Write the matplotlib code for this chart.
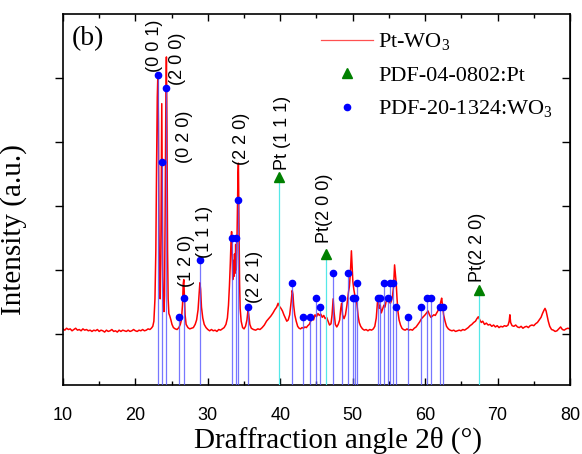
import matplotlib
matplotlib.use("Agg")
import matplotlib.pyplot as plt
from matplotlib.lines import Line2D
from matplotlib.ticker import MultipleLocator

plt.rcParams['mathtext.fontset'] = 'custom'
plt.rcParams['mathtext.rm'] = 'Liberation Serif'

# XRD pattern Pt-WO3
two_theta = [
    10.0, 10.25, 10.5, 10.75, 11.0, 11.25, 11.5, 11.75, 12.0, 12.25, 12.5, 12.75,
    13.0, 13.25, 13.5, 13.75, 14.0, 14.25, 14.5, 14.75, 15.0, 15.25, 15.5, 15.75,
    16.0, 16.25, 16.5, 16.75, 17.0, 17.25, 17.5, 17.75, 18.0, 18.25, 18.5, 18.75,
    19.0, 19.25, 19.5, 19.75, 20.0, 20.25, 20.5, 20.75, 21.0, 21.25, 21.5, 21.75,
    22.0, 22.2, 22.4, 22.55, 22.7, 22.82, 22.92, 23.02, 23.1, 23.18, 23.26, 23.34,
    23.42, 23.5, 23.58, 23.64, 23.7, 23.78, 23.86, 23.94, 24.02, 24.1, 24.2, 24.28,
    24.36, 24.44, 24.52, 24.62, 24.75, 24.9, 25.05, 25.25, 25.5, 25.75, 26.0, 26.2,
    26.35, 26.5, 26.6, 26.68, 26.76, 26.86, 27.0, 27.25, 27.5, 27.75, 28.0, 28.25,
    28.45, 28.65, 28.8, 28.9, 29.0, 29.12, 29.3, 29.5, 29.75, 30.0, 30.25, 30.5,
    30.75, 31.0, 31.25, 31.5, 31.75, 32.0, 32.25, 32.5, 32.7, 32.85, 32.98, 33.1,
    33.2, 33.28, 33.36, 33.44, 33.52, 33.6, 33.68, 33.76, 33.84, 33.92, 34.0, 34.08,
    34.16, 34.22, 34.3, 34.38, 34.46, 34.6, 34.8, 35.0, 35.2, 35.4, 35.55, 35.65,
    35.8, 36.0, 36.3, 36.6, 36.9, 37.2, 37.5, 37.8, 38.1, 38.4, 38.7, 39.0,
    39.25, 39.5, 39.7, 39.9, 40.1, 40.3, 40.5, 40.7, 40.9, 41.1, 41.3, 41.5,
    41.65, 41.75, 41.85, 42.0, 42.2, 42.4, 42.6, 42.8, 43.0, 43.2, 43.4, 43.6,
    43.8, 44.0, 44.2, 44.4, 44.6, 44.8, 45.0, 45.2, 45.4, 45.6, 45.8, 46.0,
    46.2, 46.4, 46.6, 46.8, 47.0, 47.15, 47.3, 47.42, 47.6, 47.8, 48.0, 48.2,
    48.35, 48.47, 48.6, 48.8, 49.0, 49.2, 49.4, 49.55, 49.7, 49.82, 49.92, 50.02,
    50.15, 50.3, 50.45, 50.6, 50.75, 50.9, 51.1, 51.35, 51.6, 51.85, 52.1, 52.35,
    52.6, 52.85, 53.05, 53.25, 53.42, 53.52, 53.65, 53.8, 53.95, 54.1, 54.3, 54.45,
    54.6, 54.75, 54.9, 55.05, 55.2, 55.35, 55.5, 55.65, 55.78, 55.88, 56.0, 56.12,
    56.25, 56.4, 56.6, 56.8, 57.0, 57.25, 57.5, 57.75, 58.0, 58.25, 58.5, 58.75,
    59.0, 59.25, 59.5, 59.75, 60.0, 60.2, 60.4, 60.6, 60.8, 61.0, 61.2, 61.4,
    61.6, 61.8, 62.0, 62.15, 62.28, 62.4, 62.55, 62.75, 62.95, 63.2, 63.45, 63.7,
    63.95, 64.2, 64.45, 64.7, 64.95, 65.2, 65.45, 65.7, 65.95, 66.2, 66.45, 66.7,
    66.95, 67.15, 67.35, 67.55, 67.75, 67.95, 68.2, 68.45, 68.7, 68.95, 69.2, 69.45,
    69.7, 69.95, 70.2, 70.45, 70.7, 70.95, 71.2, 71.45, 71.6, 71.7, 71.8, 72.0,
    72.25, 72.5, 72.75, 73.0, 73.25, 73.5, 73.75, 74.0, 74.25, 74.5, 74.75, 75.0,
    75.25, 75.5, 75.75, 76.0, 76.2, 76.4, 76.55, 76.7, 76.85, 77.0, 77.2, 77.45,
    77.7, 77.95, 78.2, 78.45, 78.7, 78.95, 79.2, 79.45, 79.7, 80.0,
]
intensity = [
    0.08, 0.06, 0.09, 0.07, 0.08, 0.05, 0.07, 0.09, 0.06, 0.07, 0.05, 0.08,
    0.06, 0.07, 0.05, 0.06, 0.04, 0.06, 0.05, 0.07, 0.04, 0.06, 0.05, 0.03,
    0.06, 0.04, 0.05, 0.07, 0.04, 0.05, 0.03, 0.06, 0.04, 0.06, 0.05, 0.04,
    0.06, 0.04, 0.05, 0.07, 0.05, 0.04, 0.06, 0.05, 0.07, 0.05, 0.06, 0.08,
    0.07, 0.09, 0.12, 0.2, 0.55, 1.3, 2.6, 3.7, 4.05, 3.3, 1.6, 0.7,
    0.55, 1.1, 2.6, 3.6, 2.4, 0.9, 0.45, 0.35, 0.6, 1.8, 3.6, 4.33,
    3.2, 1.3, 0.55, 0.32, 0.28, 0.22, 0.15, 0.1, 0.08, 0.07, 0.1, 0.15,
    0.22, 0.45, 0.78, 0.85, 0.6, 0.3, 0.15, 0.1, 0.08, 0.09, 0.1, 0.15,
    0.22, 0.38, 0.62, 0.8, 0.7, 0.42, 0.25, 0.15, 0.1, 0.07, 0.05, 0.07,
    0.05, 0.06, 0.04, 0.07, 0.06, 0.08, 0.1, 0.15, 0.25, 0.45, 0.75, 1.1,
    1.45, 1.6, 1.2, 0.85, 1.15, 0.9, 1.25, 0.95, 1.4, 1.0, 1.3, 1.9,
    2.5, 2.67, 1.7, 0.8, 0.4, 0.2, 0.1, 0.08, 0.12, 0.22, 0.38, 0.3,
    0.15, 0.09, 0.07, 0.06, 0.08, 0.07, 0.1, 0.14, 0.2, 0.24, 0.28, 0.33,
    0.38, 0.42, 0.48, 0.43, 0.4, 0.36, 0.3, 0.25, 0.2, 0.22, 0.3, 0.5,
    0.68, 0.62, 0.45, 0.3, 0.2, 0.12, 0.09, 0.08, 0.1, 0.09, 0.11, 0.1,
    0.13, 0.15, 0.2, 0.26, 0.22, 0.3, 0.27, 0.32, 0.29, 0.31, 0.26, 0.29,
    0.24, 0.26, 0.2, 0.14, 0.16, 0.3, 0.55, 0.35, 0.15, 0.11, 0.15, 0.22,
    0.4, 0.48, 0.3, 0.24, 0.3, 0.45, 0.64, 0.75, 1.0, 1.3, 1.05, 0.82,
    0.7, 0.6, 0.58, 0.45, 0.28, 0.18, 0.12, 0.08, 0.06, 0.07, 0.05, 0.07,
    0.06, 0.08, 0.12, 0.25, 0.5, 0.58, 0.4, 0.45, 0.33, 0.38, 0.45, 0.42,
    0.5, 0.55, 0.58, 0.5, 0.48, 0.52, 0.6, 0.75, 1.08, 0.95, 0.8, 0.55,
    0.35, 0.22, 0.14, 0.09, 0.07, 0.06, 0.08, 0.06, 0.07, 0.06, 0.09, 0.11,
    0.15, 0.19, 0.24, 0.27, 0.3, 0.33, 0.36, 0.3, 0.26, 0.28, 0.3, 0.29,
    0.33, 0.37, 0.42, 0.5, 0.56, 0.45, 0.3, 0.2, 0.12, 0.08, 0.06, 0.05,
    0.06, 0.04, 0.05, 0.06, 0.05, 0.07, 0.06, 0.08, 0.1, 0.13, 0.15, 0.18,
    0.2, 0.24, 0.27, 0.22, 0.18, 0.2, 0.15, 0.17, 0.14, 0.15, 0.12, 0.14,
    0.11, 0.13, 0.1, 0.12, 0.11, 0.13, 0.12, 0.14, 0.2, 0.3, 0.18, 0.13,
    0.12, 0.14, 0.11, 0.1, 0.12, 0.09, 0.11, 0.12, 0.1, 0.13, 0.14, 0.13,
    0.16, 0.18, 0.22, 0.26, 0.32, 0.37, 0.4, 0.36, 0.28, 0.2, 0.12, 0.07,
    0.06, 0.04, 0.05, 0.08, 0.11, 0.07, 0.06, 0.08, 0.09, 0.08,
]

# reference cards
wo3_pos = [23.12, 23.72, 24.22, 26.06, 26.75, 28.9, 33.3, 33.84, 34.16, 35.58,
           41.6, 43.15, 44.1, 44.93, 45.45, 47.31, 48.47, 49.39, 50.08, 50.3,
           50.57, 53.5, 53.77, 54.34, 54.82, 55.14, 55.53, 55.95, 57.67, 59.47,
           60.25, 60.85, 62.09, 62.51]
wo3_int = [4.04, 2.69, 3.84, 0.27, 0.57, 1.16, 1.5, 1.5, 2.1, 0.42,
           0.8, 0.27, 0.27, 0.57, 0.42, 0.96, 0.57, 0.96, 0.57, 0.57,
           0.8, 0.57, 0.57, 0.8, 0.57, 0.8, 0.8, 0.42, 0.27, 0.42,
           0.57, 0.57, 0.42, 0.42]
pt_pos = [39.78, 46.33, 67.44]
pt_int = [2.46, 1.25, 0.69]

hkl_labels = ["(0 0 1)", "(2 0 0)", "(0 2 0)", "(2 2 0)", "Pt (1 1 1)",
              "(1 2 0)", "(1 1 1)", "(2 2 1)", "Pt(2 0 0)", "Pt(2 2 0)"]
hkl_x = [22.7, 25.78, 26.84, 34.66, 40.37, 27.07, 29.6, 36.5, 46.17, 67.2]
hkl_y = [4.09, 3.89, 2.67, 2.64, 2.56, 0.74, 1.19, 0.48, 1.42, 0.82]

fig = plt.figure(figsize=(5.82, 4.54), dpi=100)
ax = fig.add_axes([0.1082, 0.152, 0.8712, 0.817])
ymin, ymax = -0.797, 5.0

# sticks
ax.vlines(wo3_pos, ymin, wo3_int, color='#5555ff', lw=0.9, alpha=0.8, zorder=3)
ax.vlines(pt_pos, ymin, pt_int, color='#55e8e8', lw=0.9, zorder=3)
line, = ax.plot(two_theta, intensity, color='red', lw=1.1, zorder=2)
dots, = ax.plot(wo3_pos, wo3_int, 'o', color='blue', ms=4.5, ls='none', zorder=4)
tris, = ax.plot(pt_pos, pt_int, '^', color='green', ms=7, ls='none', zorder=4)

for lab, x, y in zip(hkl_labels, hkl_x, hkl_y):
    ax.text(x, y, lab, rotation=90, ha='center', va='bottom',
            family='Liberation Sans', fontsize=13, zorder=5)

ax.set_xlim(10, 80)
ax.set_ylim(ymin, ymax)
ax.xaxis.set_major_locator(MultipleLocator(10))
ax.xaxis.set_minor_locator(MultipleLocator(5))
ax.set_yticks([0, 1, 2, 3, 4])
ax.tick_params(axis='x', which='both', direction='in', top=True, bottom=True,
               pad=16, labelsize=13)
ax.tick_params(axis='x', which='major', length=5, width=1)
ax.tick_params(axis='x', which='minor', length=3, width=1)
for lbl in ax.get_xticklabels():
    lbl.set_family('Liberation Sans')
ax.tick_params(axis='y', which='both', direction='out', left=True, right=False,
               labelleft=False, length=6, width=1)
secy = ax.secondary_yaxis('right')
secy.set_yticks([0, 1, 2, 3, 4])
secy.tick_params(direction='in', length=6, width=1, labelright=False)
for s in ax.spines.values():
    s.set_linewidth(1.2)

ax.set_xlabel("Draffraction angle 2θ (°)", family='Liberation Serif', fontsize=21)
ax.xaxis.set_label_coords(0.542, -0.112)
ax.set_ylabel("Intensity (a.u.)", family='Liberation Serif', fontsize=21)
ax.yaxis.set_label_coords(-0.07, 0.42)

ax.text(0.018, 0.968, "(b)", transform=ax.transAxes, ha='left', va='top',
        family='Liberation Serif', fontsize=20)

leg_line = Line2D([], [], color='#ff5050', lw=0.9)
leg = ax.legend([leg_line, tris, dots],
                [r'Pt-WO$_\mathregular{3}$', 'PDF-04-0802:Pt', r'PDF-20-1324:WO$_\mathregular{3}$'],
                loc='upper left', bbox_to_anchor=(0.509, 0.952), frameon=False,
                borderpad=0, borderaxespad=0, handlelength=2.35, handletextpad=0.22,
                labelspacing=0.55, prop={'family': 'Liberation Serif', 'size': 16})

fig.savefig("out.png", dpi=100)
